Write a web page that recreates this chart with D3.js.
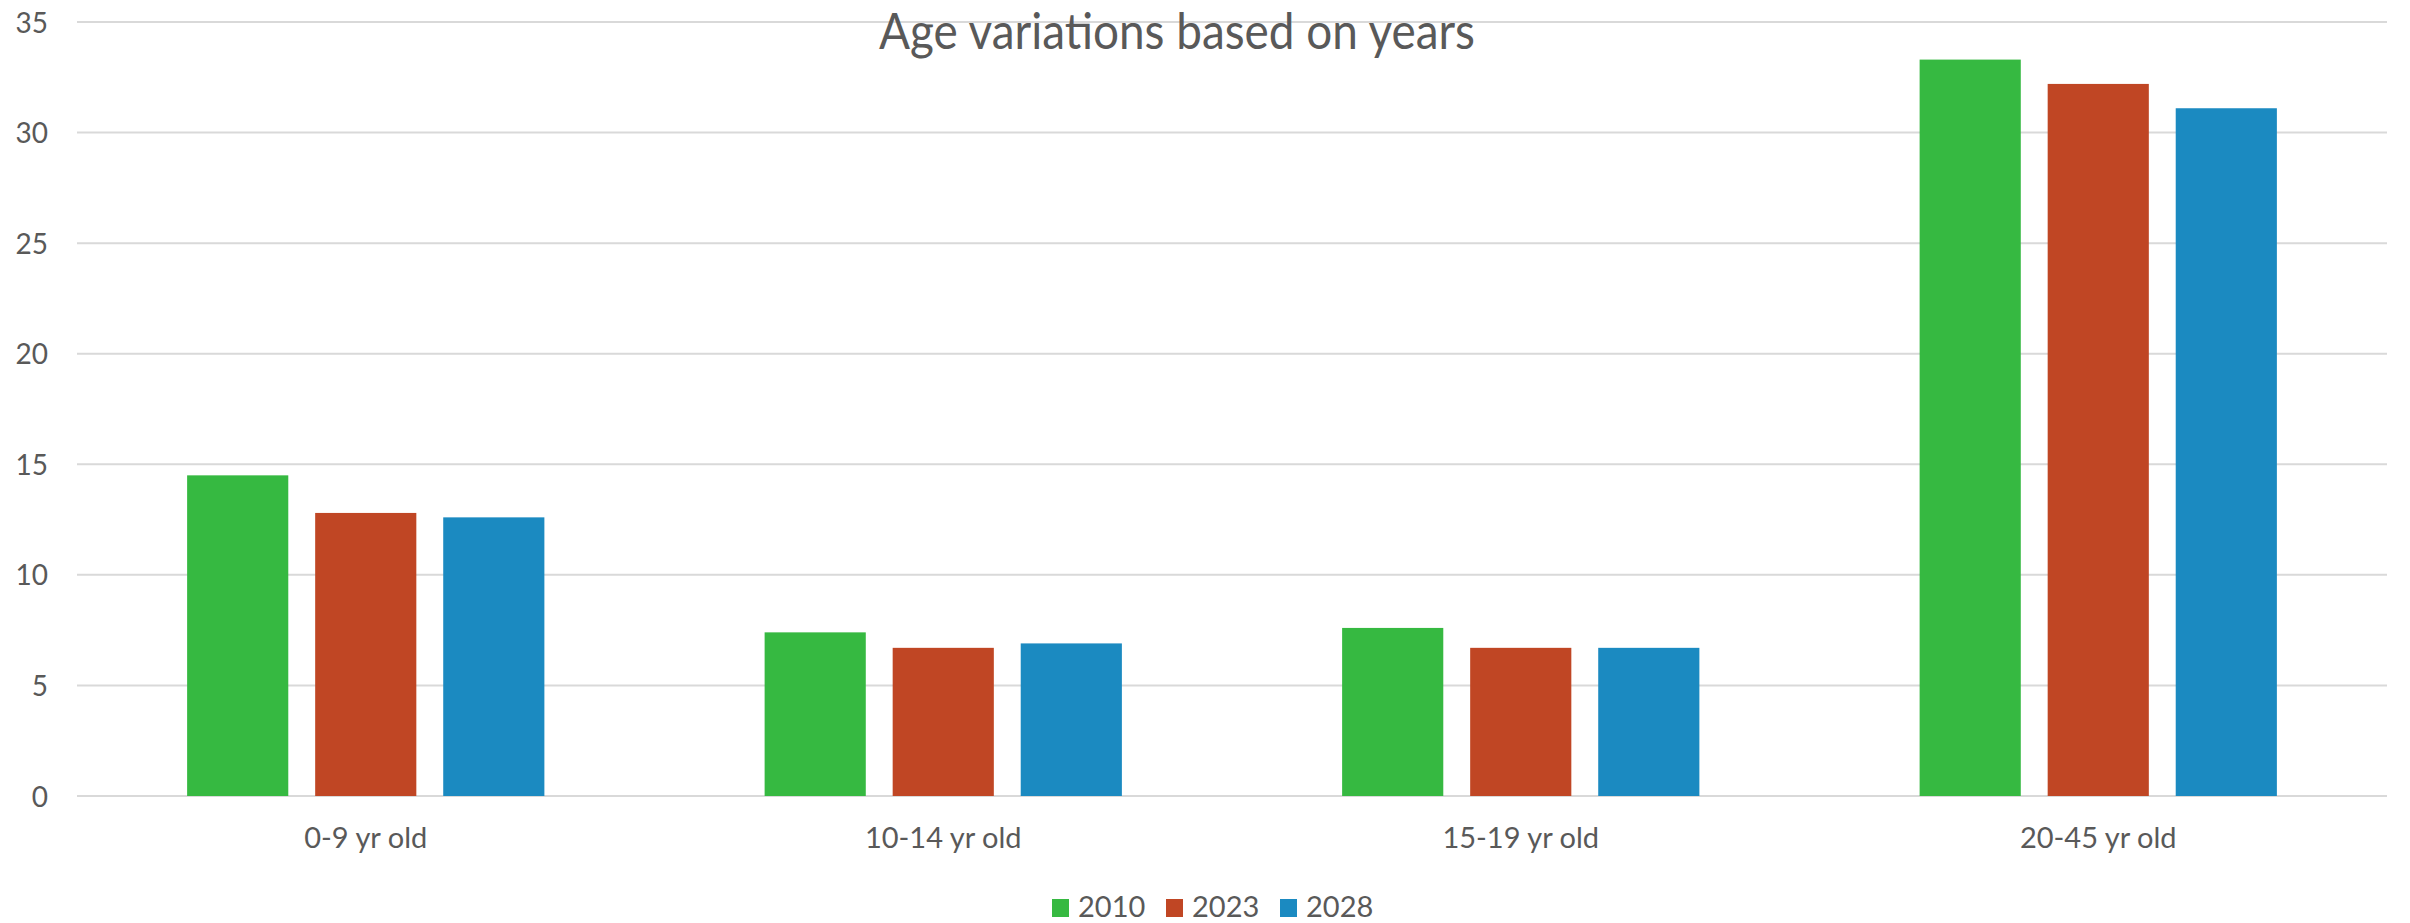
<!DOCTYPE html>
<html>
<head>
<meta charset="utf-8">
<script src="https://cdnjs.cloudflare.com/ajax/libs/d3/7.8.5/d3.min.js"></script>
<style>
  html, body { margin: 0; padding: 0; background: #ffffff; }
  svg { display: block; }
  text { font-family: Lato, "Open Sans", sans-serif; fill: #595959; }
</style>
</head>
<body>
<svg id="chart" width="2410" height="923"></svg>
<script>
// Chart data
const categories = ["0-9 yr old", "10-14 yr old", "15-19 yr old", "20-45 yr old"];
const seriesNames = ["2010", "2023", "2028"];
const values2010 = [14.5, 7.4, 7.6, 33.3];
const values2023 = [12.8, 6.7, 6.7, 32.2];
const values2028 = [12.6, 6.9, 6.7, 31.1];
const yTicks = [0, 5, 10, 15, 20, 25, 30, 35];
const titleText = "Age variations based on years";

const seriesValues = [values2010, values2023, values2028];
const colors = ["#36B941", "#C04624", "#1B8AC1"];

const plot = { left: 77, right: 2387, top: 22, bottom: 796 };

const svg = d3.select("#chart");

const y = d3.scaleLinear().domain([0, 35]).range([plot.bottom, plot.top]);
const x0 = d3.scaleBand().domain(categories).range([plot.left, plot.right]).padding(0);
const x1 = d3.scaleBand().domain(seriesNames).range([0, x0.bandwidth()])
  .paddingInner(0.21).paddingOuter(0.86);

// Horizontal gridlines
svg.append("g").selectAll("line").data(yTicks).join("line")
  .attr("x1", plot.left).attr("x2", plot.right)
  .attr("y1", d => y(d)).attr("y2", d => y(d))
  .attr("stroke", "#D9D9D9").attr("stroke-width", 2);

// Y axis labels
const yAxis = d3.axisLeft(y).tickValues(yTicks).tickSize(0).tickPadding(0);
const yg = svg.append("g").attr("transform", `translate(48,0)`).call(yAxis);
yg.select(".domain").remove();
yg.selectAll("text")
  .attr("font-size", 28).attr("fill", "#595959")
  .style("font-family", "Lato, 'Open Sans', sans-serif")
  .attr("dy", "0.36em");

// Bars
const rows = categories.map((c, i) => ({
  cat: c,
  vals: seriesNames.map((s, j) => ({ s, j, v: seriesValues[j][i] }))
}));

const groups = svg.append("g").selectAll("g").data(rows).join("g")
  .attr("transform", d => `translate(${x0(d.cat)},0)`);

groups.selectAll("rect").data(d => d.vals).join("rect")
  .attr("x", d => x1(d.s))
  .attr("width", x1.bandwidth())
  .attr("y", d => y(d.v))
  .attr("height", d => y(0) - y(d.v))
  .attr("fill", d => colors[d.j]);

// Category labels
const xAxis = d3.axisBottom(x0).tickSize(0).tickPadding(0);
const xg = svg.append("g").attr("transform", `translate(0,848)`).call(xAxis);
xg.select(".domain").remove();
xg.selectAll("text")
  .attr("y", 0).attr("dy", 0)
  .attr("font-size", 29).attr("fill", "#595959")
  .style("font-family", "Lato, 'Open Sans', sans-serif");

// Title
svg.append("text")
  .attr("x", 1177).attr("y", 49)
  .attr("text-anchor", "middle")
  .attr("font-size", 50)
  .attr("textLength", 596)
  .attr("lengthAdjust", "spacingAndGlyphs")
  .text(titleText);

// Legend
const legendX = [1052, 1166, 1280];
const leg = svg.append("g").selectAll("g").data(seriesNames).join("g")
  .attr("transform", (d, i) => `translate(${legendX[i]},0)`);
leg.append("rect")
  .attr("x", 0).attr("y", 899).attr("width", 17).attr("height", 18)
  .attr("fill", (d, i) => colors[i]);
leg.append("text")
  .attr("x", 26).attr("y", 917)
  .attr("font-size", 29)
  .text(d => d);
</script>
</body>
</html>
